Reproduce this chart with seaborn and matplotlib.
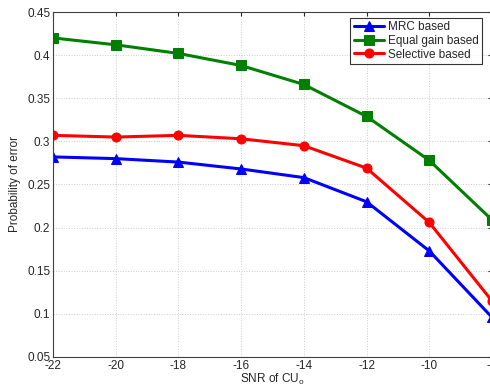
import pandas as pd
import seaborn as sns
import matplotlib.pyplot as plt

snr = [-22, -20, -18, -16, -14, -12, -10, -8]
mrc = [0.282, 0.280, 0.276, 0.268, 0.258, 0.230, 0.173, 0.096]
equal_gain = [0.420, 0.412, 0.402, 0.388, 0.366, 0.329, 0.278, 0.209]
selective = [0.307, 0.305, 0.307, 0.303, 0.295, 0.269, 0.206, 0.115]

series = {
    "MRC based": mrc,
    "Equal gain based": equal_gain,
    "Selective based": selective,
}

sns.set_style("white")
plt.rcParams["font.family"] = ["Liberation Sans", "DejaVu Sans"]
plt.rcParams["axes.unicode_minus"] = False

fig = plt.figure(figsize=(4.9, 3.88), dpi=100)
ax = fig.add_axes([0.108, 0.080, 0.896, 0.889])

colors = {"MRC based": "#0000ff", "Equal gain based": "#007f00", "Selective based": "#ff0000"}
markers = {"MRC based": "^", "Equal gain based": "s", "Selective based": "o"}

for name, vals in series.items():
    df = pd.DataFrame({"snr": snr, "pe": vals})
    sns.lineplot(data=df, x="snr", y="pe", ax=ax, color=colors[name],
                 marker=markers[name], markersize=6.5, markeredgecolor=colors[name],
                 linewidth=2.2, label=name)

ax.set_xlim(-22, -8)
ax.set_ylim(0.05, 0.45)
ax.set_xticks(snr)
ax.set_yticks([0.05, 0.1, 0.15, 0.2, 0.25, 0.3, 0.35, 0.4, 0.45])
ax.set_yticklabels(["0.05", "0.1", "0.15", "0.2", "0.25", "0.3", "0.35", "0.4", "0.45"])
ax.grid(True, linestyle=":", color="#cccccc", linewidth=0.7)
ax.tick_params(labelsize=8.5, direction="in", length=3, pad=2, top=True, right=True)
for s in ax.spines.values():
    s.set_color("#404040")
    s.set_linewidth(0.8)

ax.set_xlabel("SNR of CU$_\\mathregular{o}$", fontsize=8.5, labelpad=0)
ax.set_ylabel("Probability of error", fontsize=8.5, labelpad=4)

leg = ax.legend(loc="upper right", bbox_to_anchor=(0.996, 0.97), bbox_transform=fig.transFigure,
                fontsize=8.5, frameon=True, fancybox=False, edgecolor="black",
                handlelength=2.6, borderpad=0.3, labelspacing=0.15, handletextpad=0.3)
leg.get_frame().set_linewidth(0.8)

fig.savefig("out.png", dpi=100)
